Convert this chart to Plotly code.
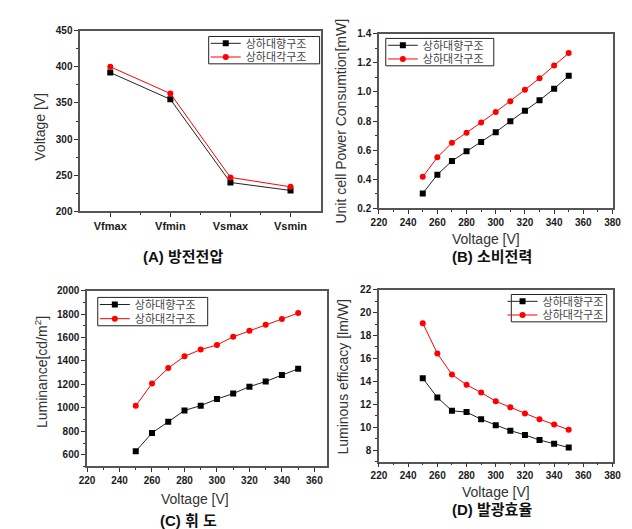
import plotly.graph_objects as go

# ---------------- data ----------------
series_names = ["상하대향구조", "상하대각구조"]

a_categories = ["Vfmax", "Vfmin", "Vsmax", "Vsmin"]
a_black = [392, 355, 240, 229]
a_red = [400, 363, 247, 234]

voltage = [250, 260, 270, 280, 290, 300, 310, 320, 330, 340, 350]

b_black = [0.303, 0.432, 0.526, 0.593, 0.656, 0.723, 0.799, 0.870, 0.942, 1.022, 1.110]
b_red = [0.417, 0.551, 0.651, 0.719, 0.790, 0.862, 0.935, 1.014, 1.094, 1.181, 1.266]

c_black = [630, 786, 881, 978, 1019, 1075, 1122, 1181, 1225, 1281, 1333]
c_red = [1017, 1208, 1339, 1439, 1497, 1536, 1606, 1658, 1708, 1758, 1808]

d_black = [14.27, 12.6, 11.43, 11.32, 10.69, 10.18, 9.70, 9.33, 8.88, 8.56, 8.22]
d_red = [19.07, 16.43, 14.59, 13.70, 13.02, 12.26, 11.74, 11.20, 10.69, 10.24, 9.78]

captions = ["(A) 방전전압", "(B) 소비전력", "(C) 휘 도", "(D) 발광효율"]
x_title = "Voltage [V]"
y_titles = ["Voltage [V]", "Unit cell Power Consumtion[mW]",
            "Luminance[cd/m<sup>2</sup>]", "Luminous efficacy [lm/W]"]

# ---------------- figure ----------------
W, H = 632, 529
FONT = "Liberation Sans, Arial, Noto Sans CJK KR"
KFONT = "Liberation Sans, Arial, Noto Sans CJK KR"

def px(x):
    return x / W

def py(y):
    return 1 - y / H

fig = go.Figure()

# legend boxes (px): left, top, right, bottom, entry x offset
legend_boxes = [(198, 23, 312, 51, -3), (380, 25, 491, 53, -3),
                (84, 290, 197, 319, -3), (509, 287, 607, 315, -9)]

panels = [
    ("x", "y", list(range(len(a_categories))), a_black, a_red),
    ("x2", "y2", voltage, b_black, b_red),
    ("x3", "y3", voltage, c_black, c_red),
    ("x4", "y4", voltage, d_black, d_red),
]

for i, (xa, ya, xs, blk, red) in enumerate(panels):
    lg1 = "legend" if i == 0 else "legend%d" % (i + 1)
    lg2 = "legend%d" % (i + 5)
    fig.add_trace(go.Scatter(
        x=xs, y=blk, name=series_names[0], mode="lines+markers",
        line=dict(color="#222222", width=1),
        marker=dict(symbol="square", size=6, color="#000000"),
        xaxis=xa, yaxis=ya, legend=lg1))
    fig.add_trace(go.Scatter(
        x=xs, y=red, name=series_names[1], mode="lines+markers",
        line=dict(color="#ff0000", width=1),
        marker=dict(symbol="circle", size=6, color="#ff0000"),
        xaxis=xa, yaxis=ya, legend=lg2))

tickfont = dict(family=FONT, size=10, color="#1a1a1a", weight="bold")
axis_common = dict(
    showline=True, linecolor="#555555", linewidth=1.5, mirror=True,
    ticks="outside", ticklen=4, tickwidth=1, tickcolor="#333333",
    showgrid=False, zeroline=False, tickfont=tickfont,
)

def minor(d):
    return dict(ticks="outside", ticklen=2, tickcolor="#333333", dtick=d, showgrid=False)

layout_axes = {}
# Panel A
layout_axes["xaxis"] = dict(axis_common, domain=[px(66), px(313)], range=[-0.5, 3.5],
                            tickvals=list(range(len(a_categories))), ticktext=a_categories,
                            tickfont=dict(family=FONT, size=11, color="#1a1a1a", weight="bold"),
                            minor=dict(ticks="outside", ticklen=2, tickcolor="#333333",
                                       tickvals=[0.5, 1.5, 2.5]), anchor="y")
layout_axes["yaxis"] = dict(axis_common, domain=[py(202), py(17)], range=[200, 450],
                            dtick=50, minor=minor(25), anchor="x")
# Panel B
layout_axes["xaxis2"] = dict(axis_common, domain=[px(373), px(613)], range=[220, 380],
                             dtick=20, minor=minor(10), anchor="y2")
layout_axes["yaxis2"] = dict(axis_common, domain=[py(199), py(20)], range=[0.2, 1.4],
                             dtick=0.2, tickformat=".1f", minor=minor(0.1), anchor="x2")
# Panel C
layout_axes["xaxis3"] = dict(axis_common, domain=[px(73), px(320)], range=[220, 368],
                             dtick=20, minor=minor(10), anchor="y3")
layout_axes["yaxis3"] = dict(axis_common, domain=[py(463), py(283)], range=[500, 2000],
                             dtick=200, tick0=0, minor=minor(100), anchor="x3")
# Panel D
layout_axes["xaxis4"] = dict(axis_common, domain=[px(373), px(613)], range=[220, 380],
                             dtick=20, minor=minor(10), anchor="y4")
layout_axes["yaxis4"] = dict(axis_common, domain=[py(458), py(282)], range=[7, 22],
                             dtick=2, tick0=0, minor=minor(1), anchor="x4")

legend_common = dict(
    bgcolor="rgba(0,0,0,0)", borderwidth=0,
    font=dict(family=KFONT, size=11, color="#444444"),
    xanchor="left", yanchor="middle", itemwidth=30, tracegroupgap=0,
)

legends = {}
shapes = []
for i, (l, t, r, b, off) in enumerate(legend_boxes):
    k1 = "legend" if i == 0 else "legend%d" % (i + 1)
    k2 = "legend%d" % (i + 5)
    row_h = (b - t) / 2
    legends[k1] = dict(legend_common, x=px(l + off), y=py(t + row_h * 0.5))
    legends[k2] = dict(legend_common, x=px(l + off), y=py(t + row_h * 1.5))
    shapes.append(dict(type="rect", xref="paper", yref="paper",
                       x0=px(l), x1=px(r), y0=py(b), y1=py(t),
                       line=dict(color="#222222", width=1), fillcolor="white",
                       layer="above"))

fig.update_layout(
    width=W, height=H,
    margin=dict(l=0, r=0, t=0, b=0),
    paper_bgcolor="white", plot_bgcolor="white",
    showlegend=True,
    shapes=shapes,
    **legends,
    **layout_axes,
)

annotations = []
# captions
for text, (cx, cy) in zip(captions, [(172, 248), (489, 248), (177, 518), (489, 507)]):
    annotations.append(dict(text="<b>" + text + "</b>", x=px(cx), y=py(cy),
                            xref="paper", yref="paper", showarrow=False,
                            xanchor="center", yanchor="middle",
                            font=dict(family=KFONT, size=15, color="#111111")))
# x axis titles
for (cx, cy) in [(483, 230), (184, 496), (493, 489)]:
    annotations.append(dict(text=x_title, x=px(cx), y=py(cy),
                            xref="paper", yref="paper", showarrow=False,
                            xanchor="center", yanchor="middle",
                            font=dict(family=FONT, size=14, color="#333333")))
# y axis titles
for text, (cx, cy) in zip(y_titles, [(25, 115), (333, 110), (25, 366), (336, 371)]):
    annotations.append(dict(text=text, x=px(cx), y=py(cy), textangle=-90,
                            xref="paper", yref="paper", showarrow=False,
                            xanchor="center", yanchor="middle",
                            font=dict(family=FONT, size=14, color="#333333")))
fig.update_layout(annotations=annotations)

fig.write_html("out.html")
